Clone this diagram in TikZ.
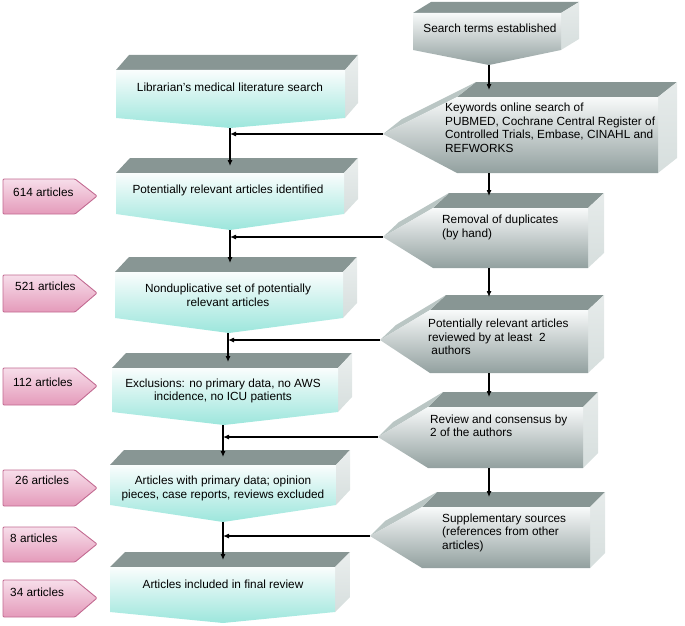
\documentclass[tikz,border=0pt]{standalone}
\usepackage{fontspec}
\setmainfont{Liberation Sans}
\usetikzlibrary{arrows.meta}
\definecolor{topgray}{RGB}{136,150,148}
\definecolor{cyanlo}{RGB}{156,230,220}
\definecolor{cyanhi}{RGB}{250,253,253}
\definecolor{sidegray}{RGB}{214,222,221}
\definecolor{graylo}{RGB}{146,160,159}
\definecolor{grayhi}{RGB}{248,250,250}
\definecolor{facetgray}{RGB}{186,198,196}
\definecolor{pinkhi}{RGB}{247,222,234}
\definecolor{pinklo}{RGB}{228,154,186}
\definecolor{pinkedge}{RGB}{194,106,145}
% left (cyan) box: x1,x2,yt,yb,xm,yp,dx
\newcommand{\leftbox}[7]{%
  \fill[topgray] (#1,#3) -- (#2,#3) -- ({#2+#7},{#3-15}) -- ({#1+#7},{#3-15}) -- cycle;
  \shade[top color=sidegray!50!white, bottom color=sidegray] (#2,#3) -- ({#2+#7},{#3-15}) -- ({#2+#7},{#4-15}) -- (#2,#4) -- cycle;
  \shade[top color=cyanhi, bottom color=cyanlo] (#1,#3) -- (#2,#3) -- (#2,#4) -- (#5,#6) -- (#1,#4) -- cycle;
}
% right (gray) box: xp,yp,x1,x2,yt,yb,dx
\newcommand{\rightbox}[7]{%
  \fill[topgray] (#3,#5) -- (#4,#5) -- ({#4+#7},{#5-15}) -- ({#3+#7},{#5-15}) -- cycle;
  \fill[facetgray] (#3,#5) -- (#1,#2) -- ({#1+#7},{#2-15}) -- ({#3+#7},{#5-15}) -- cycle;
  \shade[top color=sidegray!60!white, bottom color=sidegray] (#4,#5) -- ({#4+#7},{#5-15}) -- ({#4+#7},{#6-15}) -- (#4,#6) -- cycle;
  \shade[top color=grayhi, bottom color=graylo] (#3,#5) -- (#4,#5) -- (#4,#6) -- (#3,#6) -- (#1,#2) -- cycle;
}
% pink label: yt,yb,yp
\newcommand{\pinklabel}[3]{%
  \draw[pinkedge, line width=0.9pt, top color=pinkhi, bottom color=pinklo, rounded corners=1pt]
    (3,#1) -- (75,#1) -- (97,#3) -- (75,#2) -- (3,#2) -- cycle;
}
\tikzset{
  txt/.style={inner sep=0pt, font=\fontsize{11.8}{13.5}\selectfont},
  arr/.style={-{Latex[length=6pt,width=5pt]}, line width=1.1pt, black},
}
\begin{document}
\begin{tikzpicture}[x=1pt, y=-1pt]
\useasboundingbox (0,0) rectangle (685,626);
% ---- shapes, right column
\fill[topgray] (413,13) -- (561,13) -- (579,2) -- (431,2) -- cycle;
\shade[top color=sidegray!60!white, bottom color=sidegray] (561,13) -- (579,2) -- (579,39) -- (561,50) -- cycle;
\shade[top color=grayhi, bottom color=graylo] (413,13) -- (561,13) -- (561,50) -- (489,65) -- (413,50) -- cycle;
\rightbox{383}{134}{457}{658}{97}{173}{19}
\rightbox{383}{237}{433}{588}{208}{268}{16}
\rightbox{380}{340}{430}{588}{310}{373}{16}
\rightbox{378}{437}{428}{583}{407}{468}{15}
\rightbox{370}{536}{422}{590}{507}{568}{15}
% ---- shapes, left column
\leftbox{116}{345}{70}{118}{230}{128}{13}
\leftbox{116}{344}{173}{214}{230}{230}{14}
\leftbox{115}{343}{272}{318}{229}{333}{14}
\leftbox{112}{338}{368}{412}{224}{425}{14}
\leftbox{110}{336}{465}{505}{223}{522}{14}
\leftbox{110}{335}{567}{612}{223}{623}{15}
% ---- pink labels
\pinklabel{179}{214}{196}
\pinklabel{275}{312}{293}
\pinklabel{368}{405}{386}
\pinklabel{470}{506}{488}
\pinklabel{527}{562}{544}
\pinklabel{580}{617}{598}
% ---- connector end points
\coordinate (R0p) at (489,65);
\coordinate (R1t) at (489,90);
\coordinate (R1b) at (489,173);
\coordinate (R1p) at (383,134);
\coordinate (R2t) at (489,196);
\coordinate (R2b) at (489,268);
\coordinate (R2p) at (383,237);
\coordinate (R3t) at (489,297);
\coordinate (R3b) at (489,373);
\coordinate (R3p) at (380,340);
\coordinate (R4t) at (489,397);
\coordinate (R4b) at (489,468);
\coordinate (R4p) at (378,437);
\coordinate (R5t) at (489,497);
\coordinate (R5p) at (370,536);
\coordinate (L1p) at (230,128);
\coordinate (L2t) at (230,166);
\coordinate (L2p) at (230,230);
\coordinate (L3t) at (230,263);
\coordinate (L3p) at (228,333);
\coordinate (L4t) at (228,362);
\coordinate (L4p) at (223,425);
\coordinate (L5t) at (223,457);
\coordinate (L5p) at (223,522);
\coordinate (L6t) at (223,560);
% ---- connectors
\draw[arr] (R0p) -- (R1t);
\draw[arr] (R1b) -- (R2t);
\draw[arr] (R2b) -- (R3t);
\draw[arr] (R3b) -- (R4t);
\draw[arr] (R4b) -- (R5t);
\draw[arr] (L1p) -- (L2t);
\draw[arr] (L2p) -- (L3t);
\draw[arr] (L3p) -- (L4t);
\draw[arr] (L4p) -- (L5t);
\draw[arr] (L5p) -- (L6t);
\draw[arr] (R1p) -- (R1p -| L1p);
\draw[arr] (R2p) -- (R2p -| L2p);
\draw[arr] (R3p) -- (R3p -| L3p);
\draw[arr] (R4p) -- (R4p -| L4p);
\draw[arr] (R5p) -- (R5p -| L5p);
% ---- texts, right column
\node[txt] (t0) at (490,28) {Search terms established};
\node[txt, anchor=west, align=left] (t1) at (445,128) {Keywords online search of\\PUBMED, Cochrane Central Register of\\Controlled Trials, Embase, CINAHL and\\REFWORKS};
\node[txt, anchor=west, align=left] (t2) at (442,227.5) {Removal of duplicates\\(by hand)};
\node[txt, anchor=west, align=left] (t3) at (428,337) {Potentially relevant articles\\reviewed by at least\ \ 2\\{}\ authors};
\node[txt, anchor=west, align=left] (t4) at (430,426) {Review and consensus by\\2 of the authors};
\node[txt, anchor=west, align=left] (t5) at (442,532.5) {Supplementary sources\\(references from other\\articles)};
% ---- texts, left column
\node[txt] (l1) at (230,87) {Librarian’s medical literature search};
\node[txt] (l2) at (228,190) {Potentially relevant articles identified};
\node[txt, align=center] (l3) at (228,295.5) {Nonduplicative set of potentially\\relevant articles};
\node[txt, align=center] (l4) at (223,391) {Exclusions: no primary data, no AWS\\incidence, no ICU patients};
\node[txt, align=center] (l5) at (223,488.5) {Articles with primary data; opinion\\pieces, case reports, reviews excluded};
\node[txt] (l6) at (223,584) {Articles included in final review};
% ---- texts, labels
\node[txt, anchor=west] (n1) at (13,192) {614 articles};
\node[txt, anchor=west] (n2) at (15,286) {521 articles};
\node[txt, anchor=west] (n3) at (13,382) {112 articles};
\node[txt, anchor=west] (n4) at (15,480) {26 articles};
\node[txt, anchor=west] (n5) at (10,538) {8 articles};
\node[txt, anchor=west] (n6) at (10,592) {34 articles};
\end{tikzpicture}
\end{document}
